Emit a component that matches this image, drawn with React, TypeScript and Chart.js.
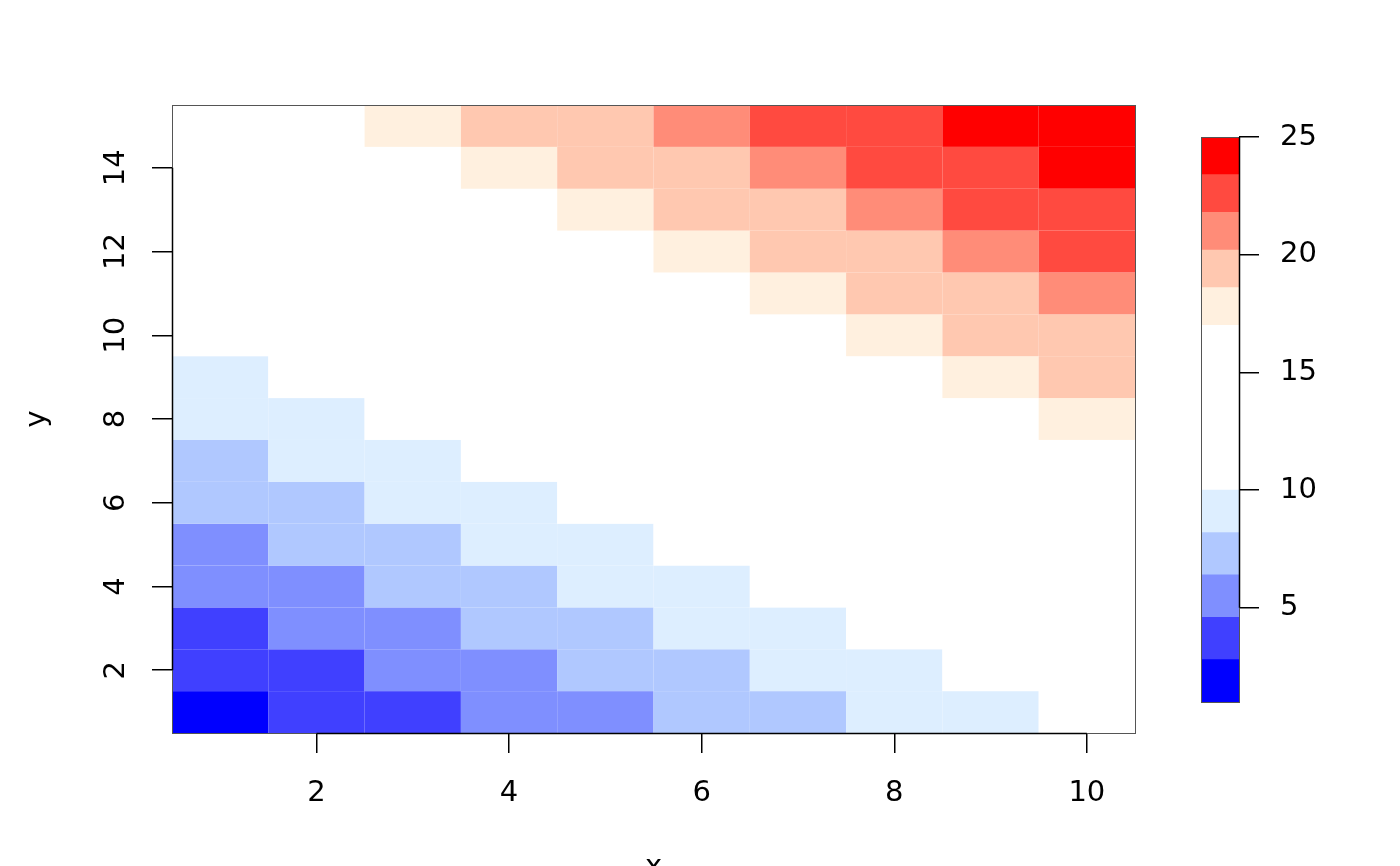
import React, { useEffect, useRef } from "react";
import { Chart, registerables } from "chart.js";

Chart.register(...registerables);

// ---------- data ----------
const xValues = [1, 2, 3, 4, 5, 6, 7, 8, 9, 10];
const yValues = [1, 2, 3, 4, 5, 6, 7, 8, 9, 10, 11, 12, 13, 14, 15];
const xTicks = [2, 4, 6, 8, 10];
const yTicks = [2, 4, 6, 8, 10, 12, 14];
// zRows[j][i] is the value at x = xValues[i], y = yValues[j]
const zRows = [
  [2, 3, 4, 5, 6, 7, 8, 9, 10, 11],
  [3, 4, 5, 6, 7, 8, 9, 10, 11, 12],
  [4, 5, 6, 7, 8, 9, 10, 11, 12, 13],
  [5, 6, 7, 8, 9, 10, 11, 12, 13, 14],
  [6, 7, 8, 9, 10, 11, 12, 13, 14, 15],
  [7, 8, 9, 10, 11, 12, 13, 14, 15, 16],
  [8, 9, 10, 11, 12, 13, 14, 15, 16, 17],
  [9, 10, 11, 12, 13, 14, 15, 16, 17, 18],
  [10, 11, 12, 13, 14, 15, 16, 17, 18, 19],
  [11, 12, 13, 14, 15, 16, 17, 18, 19, 20],
  [12, 13, 14, 15, 16, 17, 18, 19, 20, 21],
  [13, 14, 15, 16, 17, 18, 19, 20, 21, 22],
  [14, 15, 16, 17, 18, 19, 20, 21, 22, 23],
  [15, 16, 17, 18, 19, 20, 21, 22, 23, 24],
  [16, 17, 18, 19, 20, 21, 22, 23, 24, 25],
];
const levelBreaks = [1, 2.8, 4.6, 6.4, 8.2, 10, 17, 18.6, 20.2, 21.8, 23.4, 25];
const levelColors = [
  "#0000FF",
  "#4040FF",
  "#7F8FFF",
  "#B0C8FF",
  "#DDEEFF",
  "#FFFFFF",
  "#FFF0DF",
  "#FFC8B0",
  "#FF8C78",
  "#FF4A40",
  "#FF0000",
];
const legendTicks = [5, 10, 15, 20, 25];
const xTitle = "x";
const yTitle = "y";

// ---------- helpers ----------
const FONT = "'DejaVu Sans', 'Liberation Sans', sans-serif";
const FONT_SIZE = 29;

function colorFor(z: number): string {
  for (let i = 0; i < levelColors.length; i++) {
    if (z > levelBreaks[i] && z <= levelBreaks[i + 1]) return levelColors[i];
  }
  return z <= levelBreaks[0] ? levelColors[0] : levelColors[levelColors.length - 1];
}

const heatmapPlugin = {
  id: "heatmap",
  beforeDatasetsDraw(chart: any) {
    const { ctx } = chart;
    const xs = chart.scales.x;
    const ys = chart.scales.y;
    ctx.save();
    zRows.forEach((row, j) => {
      row.forEach((z, i) => {
        const xv = xValues[i];
        const yv = yValues[j];
        const l = xs.getPixelForValue(xv - 0.5);
        const r = xs.getPixelForValue(xv + 0.5);
        const t = ys.getPixelForValue(yv + 0.5);
        const b = ys.getPixelForValue(yv - 0.5);
        ctx.fillStyle = colorFor(z);
        ctx.fillRect(l, t, r - l, b - t);
      });
    });
    ctx.restore();
  },
  afterDraw(chart: any) {
    const { ctx, chartArea } = chart;
    const xs = chart.scales.x;
    const ys = chart.scales.y;
    ctx.save();
    ctx.strokeStyle = "#555555";
    ctx.lineWidth = 1;
    ctx.strokeRect(
      Math.round(chartArea.left) + 0.5,
      Math.round(chartArea.top) + 0.5,
      Math.round(chartArea.right - chartArea.left),
      Math.round(chartArea.bottom - chartArea.top)
    );
    ctx.strokeStyle = "#000000";
    ctx.lineWidth = 1.5;
    ctx.beginPath();
    const by = Math.round(chartArea.bottom) + 0.5;
    ctx.moveTo(xs.getPixelForValue(xTicks[0]), by);
    ctx.lineTo(xs.getPixelForValue(xTicks[xTicks.length - 1]), by);
    const lx = Math.round(chartArea.left) + 0.5;
    ctx.moveTo(lx, ys.getPixelForValue(yTicks[0]));
    ctx.lineTo(lx, ys.getPixelForValue(yTicks[yTicks.length - 1]));
    ctx.stroke();
    ctx.restore();
  },
};

const legendFramePlugin = {
  id: "legendFrame",
  afterDraw(chart: any) {
    const { ctx, chartArea } = chart;
    const ys = chart.scales.y;
    ctx.save();
    ctx.strokeStyle = "#555555";
    ctx.lineWidth = 1;
    ctx.strokeRect(
      Math.round(chartArea.left) + 0.5,
      Math.round(chartArea.top) + 0.5,
      Math.round(chartArea.right - chartArea.left),
      Math.round(chartArea.bottom - chartArea.top)
    );
    ctx.strokeStyle = "#000000";
    ctx.lineWidth = 1.5;
    const rx = Math.round(chartArea.right) + 0.5;
    ctx.beginPath();
    ctx.moveTo(rx, ys.getPixelForValue(legendTicks[0]));
    ctx.lineTo(rx, ys.getPixelForValue(legendTicks[legendTicks.length - 1]));
    ctx.stroke();
    ctx.restore();
  },
};

// ---------- component ----------
export default function App() {
  const mainRef = useRef<HTMLCanvasElement | null>(null);
  const legendRef = useRef<HTMLCanvasElement | null>(null);

  useEffect(() => {
    if (!mainRef.current || !legendRef.current) return;
    const tickFont = { family: FONT, size: FONT_SIZE };

    const main = new Chart(mainRef.current, {
      type: "scatter",
      data: { datasets: [] },
      options: {
        responsive: false,
        animation: false,
        events: [],
        layout: { padding: { left: 0, top: 105, right: 265, bottom: 0 } },
        plugins: { legend: { display: false }, tooltip: { enabled: false } },
        scales: {
          x: {
            type: "linear",
            position: "bottom",
            min: 0.5,
            max: 10.5,
            afterBuildTicks: (s: any) => {
              s.ticks = xTicks.map((v) => ({ value: v }));
            },
            afterFit: (s: any) => {
              s.height = 167;
            },
            grid: {
              display: true,
              drawOnChartArea: false,
              drawTicks: true,
              tickLength: 20,
              color: "#000000",
              lineWidth: 1.5,
            },
            border: { display: false },
            ticks: {
              font: tickFont,
              color: "#000000",
              padding: 23,
              maxRotation: 0,
              minRotation: 0,
              autoSkip: false,
              callback: (v: any) => String(v),
            },
            title: {
              display: true,
              text: xTitle,
              font: tickFont,
              color: "#000000",
              padding: { top: 0, bottom: 15 },
            },
          },
          y: {
            type: "linear",
            position: "left",
            min: 0.5,
            max: 15.5,
            afterBuildTicks: (s: any) => {
              s.ticks = yTicks.map((v) => ({ value: v }));
            },
            afterFit: (s: any) => {
              s.width = 172;
            },
            grid: {
              display: true,
              drawOnChartArea: false,
              drawTicks: true,
              tickLength: 20,
              color: "#000000",
              lineWidth: 1.5,
            },
            border: { display: false },
            ticks: {
              font: tickFont,
              color: "#000000",
              padding: 17,
              minRotation: 90,
              maxRotation: 90,
              crossAlign: "center",
              autoSkip: false,
              callback: (v: any) => String(v),
            },
            title: {
              display: true,
              text: yTitle,
              font: tickFont,
              color: "#000000",
              padding: { top: 20, bottom: 0 },
            },
          },
        },
      },
      plugins: [heatmapPlugin],
    } as any);

    const legend = new Chart(legendRef.current, {
      type: "bar",
      data: {
        labels: [""],
        datasets: levelColors.map((c, i) => ({
          data: [[levelBreaks[i], levelBreaks[i + 1]]],
          backgroundColor: c,
          borderWidth: 0,
          grouped: false,
          barPercentage: 1,
          categoryPercentage: 1,
        })),
      },
      options: {
        responsive: false,
        animation: false,
        events: [],
        layout: { padding: { left: 51, top: 137, right: 0, bottom: 164 } },
        plugins: { legend: { display: false }, tooltip: { enabled: false } },
        scales: {
          x: { display: false, stacked: false },
          y: {
            type: "linear",
            position: "right",
            min: levelBreaks[0],
            max: levelBreaks[levelBreaks.length - 1],
            afterBuildTicks: (s: any) => {
              s.ticks = legendTicks.map((v) => ({ value: v }));
            },
            afterFit: (s: any) => {
              s.width = 161;
            },
            grid: {
              display: true,
              drawOnChartArea: false,
              drawTicks: true,
              tickLength: 20,
              color: "#000000",
              lineWidth: 1.5,
            },
            border: { display: false },
            ticks: {
              font: tickFont,
              color: "#000000",
              padding: 21,
              autoSkip: false,
              callback: (v: any) => String(v),
            },
          },
        },
      },
      plugins: [legendFramePlugin],
    } as any);

    return () => {
      main.destroy();
      legend.destroy();
    };
  }, []);

  return (
    <div
      style={{
        position: "fixed",
        left: 0,
        top: 0,
        width: 1400,
        height: 866,
        overflow: "hidden",
        background: "#ffffff",
      }}
    >
      <canvas
        ref={mainRef}
        width={1400}
        height={900}
        style={{ position: "absolute", left: 0, top: 0, width: 1400, height: 900 }}
      />
      <canvas
        ref={legendRef}
        width={250}
        height={866}
        style={{ position: "absolute", left: 1150, top: 0, width: 250, height: 866 }}
      />
    </div>
  );
}
